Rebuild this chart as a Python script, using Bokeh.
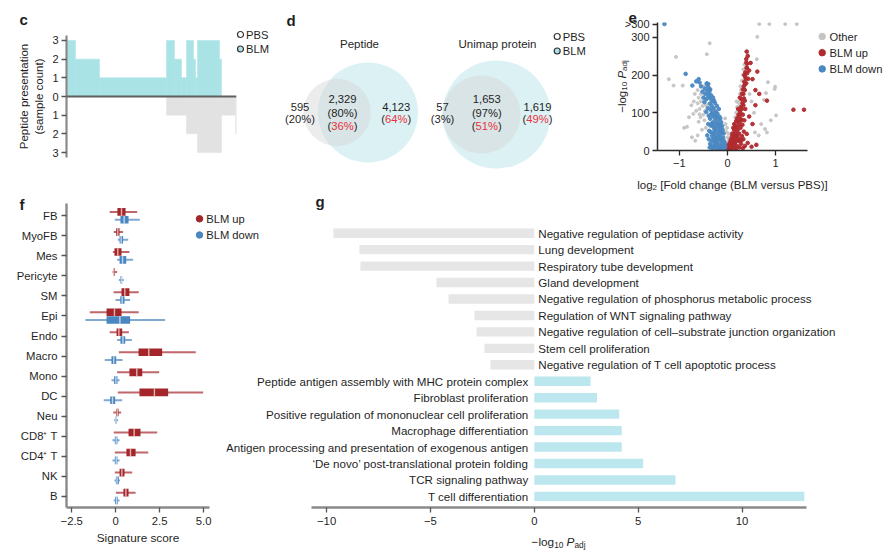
import math
import json
from bokeh.plotting import figure
from bokeh.models import (Range1d, Label, LabelSet, ColumnDataSource, FixedTicker,
                          CustomJSTickFormatter, Span, Spacer)
from bokeh.layouts import column, row
from bokeh.core.properties import value
from bokeh.embed import file_html
from bokeh.resources import INLINE

FONT = "Liberation Sans"
INK = "#1f1f1f"
TEAL_C = "#a9e3e5"
GRAY_C = "#e2e2e2"
RED = "#a4262b"
BLUE = "#4a86bf"
PCT_RED = "#e8323c"

# ---------------- data: panel c ----------------
c_blm_counts = [3, 2, 1, 3, 2, 1, 3, 2, 1, 3, 2, 0]
c_blm_runs = [9, 24, 67, 8, 7, 5, 7, 2, 2, 22, 2, 15]
c_pbs_counts = [0, 1, 2, 3, 1, 2]
c_pbs_runs = [100, 20, 11, 24, 14, 1]
c_ticks = [-3, -2, -1, 0, 1, 2, 3]

# ---------------- data: panel d ----------------
venn_titles = ["Peptide", "Unimap protein"]
venn_pbs_only = [595, 57]
venn_shared = [2329, 1653]
venn_blm_only = [4123, 1619]
venn_pct_pbs_only = [20, 3]
venn_pct_shared_pbs = [80, 97]
venn_pct_shared_blm = [36, 51]
venn_pct_blm_only = [64, 49]

# ---------------- data: panel e (volcano) ----------------
e_other = [(0.66, 335), (0.87, 335), (1.20, 335), (1.44, 335), (0.62, 301), (-0.37, 284),
           (-1.07, 248), (-0.43, 255), (0.39, 262), (0.42, 254), (0.61, 242), (-1.22, 189),
           (-1.12, 172), (-0.93, 172), (0.84, 181), (0.99, 169), (0.98, 163), (0.80, 152),
           (0.76, 134), (1.01, 93), (-0.84, 63), (-0.71, 97), (0.78, 57), (0.82, 48),
           (-0.74, 35), (-0.67, 26), (0.57, 48),
           (-0.55, 150), (-0.60, 140), (-0.62, 125), (-0.58, 110), (-0.52, 118), (-0.65, 105),
           (-0.50, 95), (-0.56, 88), (-0.48, 80), (-0.60, 76), (-0.45, 60), (-0.53, 55),
           (-0.62, 160), (-0.68, 150), (-0.50, 170), (-0.45, 120), (-0.47, 105), (-0.55, 130),
           (-0.70, 130), (-0.58, 96),
           (0.18, 100), (0.20, 115), (0.22, 128), (0.24, 140), (0.26, 150), (0.25, 120),
           (0.21, 92), (0.27, 170), (0.30, 185), (0.32, 200), (0.33, 215), (0.35, 228),
           (0.28, 160), (0.19, 130), (0.23, 105), (0.16, 88),
           (-0.02, 20), (0.00, 35), (-0.03, 50), (0.01, 15), (-0.01, 60), (0.02, 45),
           (-0.04, 70), (0.03, 28), (0.00, 8), (-0.05, 85),
           (-0.75, 120), (-0.80, 88), (0.50, 130), (0.55, 100), (0.46, 150), (0.70, 70),
           (0.65, 40), (-0.62, 40), (-0.90, 60), (0.90, 80)]
e_down = [(-0.02, 2), (-0.04, 6), (-0.06, 3), (-0.08, 10), (-0.10, 4), (-0.12, 12), (-0.14, 6),
          (-0.16, 15), (-0.18, 4), (-0.20, 9), (-0.22, 18), (-0.24, 7), (-0.26, 14), (-0.28, 22),
          (-0.30, 10), (-0.33, 26), (-0.36, 18), (-0.39, 30),
          (-0.05, 18), (-0.07, 25), (-0.09, 34), (-0.11, 22), (-0.13, 30), (-0.15, 40),
          (-0.17, 28), (-0.19, 36), (-0.21, 45), (-0.23, 33), (-0.25, 50), (-0.27, 38),
          (-0.30, 44), (-0.34, 48), (-0.38, 52), (-0.42, 40),
          (-0.08, 45), (-0.10, 55), (-0.12, 48), (-0.14, 62), (-0.16, 52), (-0.18, 68),
          (-0.20, 58), (-0.22, 72), (-0.24, 62), (-0.26, 80), (-0.28, 68), (-0.31, 74),
          (-0.35, 66), (-0.40, 70),
          (-0.13, 75), (-0.15, 85), (-0.17, 90), (-0.19, 82), (-0.21, 98), (-0.23, 88),
          (-0.25, 104), (-0.27, 94), (-0.29, 112), (-0.31, 100), (-0.33, 118), (-0.35, 108),
          (-0.37, 124), (-0.39, 92), (-0.41, 112), (-0.44, 102), (-0.18, 110), (-0.22, 118),
          (-0.26, 126),
          (-0.28, 132), (-0.30, 140), (-0.32, 130), (-0.34, 146), (-0.36, 138), (-0.38, 152),
          (-0.40, 144), (-0.42, 158), (-0.44, 136), (-0.46, 150), (-0.48, 128), (-0.50, 140),
          (-0.36, 162), (-0.40, 168), (-0.43, 176), (-0.47, 164), (-0.52, 156), (-0.55, 170),
          (-0.58, 180), (-0.60, 189), (-0.65, 183), (-0.73, 172), (-0.87, 203), (-0.37, 159),
          (-0.40, 176), (-0.43, 178), (-1.31, 335),
          (-0.31, 5), (-0.34, 12), (-0.37, 8), (-0.29, 30), (-0.32, 38), (-0.27, 55),
          (-0.29, 62), (-0.33, 70), (-0.36, 84), (-0.30, 90), (-0.34, 96), (-0.24, 92),
          (-0.20, 70), (-0.16, 72), (-0.11, 65), (-0.25, 28), (-0.21, 22), (-0.15, 50),
          (-0.06, 10), (-0.03, 12)]
e_up = [(0.02, 2), (0.04, 8), (0.06, 4), (0.08, 14), (0.10, 6), (0.12, 18), (0.14, 9),
        (0.16, 22), (0.18, 5), (0.20, 12), (0.22, 26), (0.25, 8), (0.28, 18), (0.32, 6),
        (0.36, 12), (0.42, 20), (0.50, 10), (0.60, 15),
        (0.05, 22), (0.07, 30), (0.09, 38), (0.11, 28), (0.13, 42), (0.15, 35), (0.17, 48),
        (0.19, 40), (0.21, 55), (0.24, 45), (0.27, 60), (0.30, 38), (0.34, 50), (0.40, 44),
        (0.12, 60), (0.14, 70), (0.16, 65), (0.18, 78), (0.20, 85), (0.22, 75), (0.23, 95),
        (0.25, 88), (0.26, 105), (0.27, 98), (0.28, 115), (0.30, 110), (0.31, 125),
        (0.33, 120), (0.34, 138), (0.36, 132), (0.29, 82), (0.32, 95), (0.37, 110),
        (0.45, 90), (0.52, 70), (0.58, 120),
        (0.30, 150), (0.32, 162), (0.34, 170), (0.35, 182), (0.36, 160), (0.37, 195),
        (0.38, 205), (0.39, 178), (0.40, 218), (0.41, 230), (0.39, 242), (0.42, 250),
        (0.40, 262), (0.43, 190), (0.45, 212), (0.48, 232), (0.52, 189), (0.62, 209),
        (0.37, 207), (0.39, 233), (0.40, 220), (0.82, 132), (1.37, 108), (1.59, 108),
        (0.58, 160), (0.66, 150),
        (0.03, 15), (0.06, 12), (0.09, 20), (0.12, 30), (0.15, 20), (0.18, 30), (0.20, 40),
        (0.23, 32), (0.26, 25), (0.29, 28), (0.33, 30), (0.10, 45), (0.14, 55), (0.19, 62),
        (0.24, 68), (0.27, 78), (0.31, 68), (0.35, 80), (0.22, 110), (0.26, 140),
        (0.29, 135), (0.33, 150), (0.36, 175), (0.38, 190), (0.41, 205), (0.35, 200)]
e_xticks = [-1, 0, 1]
e_yticks = [0, 100, 200, 300, 335]
e_legend = ["Other", "BLM up", "BLM down"]

# ---------------- data: panel f ----------------
f_types = ["FB", "MyoFB", "Mes", "Pericyte", "SM", "Epi", "Endo", "Macro", "Mono", "DC",
           "Neu", "CD8\u207a T", "CD4\u207a T", "NK", "B"]
f_up_lo = [-0.34, -0.11, -0.16, -0.18, -0.12, -1.47, -0.34, 0.18, 0.08, 0.12, -0.14, -0.11, -0.05, -0.05, 0.01]
f_up_q1 = [0.10, 0.03, -0.07, -0.14, 0.33, -0.52, 0.05, 1.30, 0.78, 1.35, 0.03, 0.73, 0.61, 0.22, 0.44]
f_up_med = [0.33, 0.12, 0.12, -0.11, 0.52, -0.07, 0.18, 1.88, 1.20, 2.20, 0.09, 1.05, 0.84, 0.35, 0.58]
f_up_q3 = [0.56, 0.22, 0.33, -0.05, 0.78, 0.33, 0.37, 2.64, 1.51, 2.98, 0.16, 1.41, 1.13, 0.50, 0.73]
f_up_hi = [1.22, 0.42, 0.78, 0.08, 1.31, 1.31, 0.75, 4.55, 2.47, 4.97, 0.31, 2.36, 1.85, 0.94, 1.13]
f_dn_lo = [-0.05, 0.12, 0.08, 0.18, -0.01, -1.72, 0.08, -0.62, -0.24, -0.68, -0.09, -0.18, -0.18, -0.07, -0.11]
f_dn_q1 = [0.27, 0.22, 0.22, 0.27, 0.26, -0.52, 0.27, -0.24, -0.09, -0.31, -0.03, -0.05, -0.05, 0.01, -0.03]
f_dn_med = [0.48, 0.31, 0.39, 0.33, 0.37, 0.24, 0.41, -0.11, 0.01, -0.18, 0.01, 0.03, 0.03, 0.08, 0.05]
f_dn_q3 = [0.73, 0.42, 0.60, 0.37, 0.50, 0.82, 0.54, 0.03, 0.10, -0.03, 0.05, 0.10, 0.10, 0.18, 0.12]
f_dn_hi = [1.37, 0.71, 0.99, 0.46, 0.82, 2.81, 0.92, 0.39, 0.22, 0.37, 0.14, 0.22, 0.22, 0.24, 0.22]
f_xticks = [-2.5, 0, 2.5, 5]
f_legend = ["BLM up", "BLM down"]

# ---------------- data: panel g ----------------
g_terms_down = ["Negative regulation of peptidase activity", "Lung development",
                "Respiratory tube development", "Gland development",
                "Negative regulation of phosphorus metabolic process",
                "Regulation of WNT signaling pathway",
                "Negative regulation of cell\u2013substrate junction organization",
                "Stem cell proliferation", "Negative regulation of T cell apoptotic process"]
g_vals_down = [-9.67, -8.42, -8.37, -4.71, -4.13, -2.88, -2.78, -2.40, -2.11]
g_terms_up = ["Peptide antigen assembly with MHC protein complex", "Fibroblast proliferation",
              "Positive regulation of mononuclear cell proliferation",
              "Macrophage differentiation",
              "Antigen processing and presentation of exogenous antigen",
              "\u2018De novo\u2019 post-translational protein folding",
              "TCR signaling pathway", "T cell differentiation"]
g_vals_up = [2.71, 3.02, 4.09, 4.21, 4.21, 5.24, 6.80, 13.0]
g_xticks = [-10, -5, 0, 5, 10]

# ---------------- helpers ----------------
AW = {" ": 278, "(": 333, ")": 333, "[": 278, "]": 278, ",": 278, ".": 278, "%": 889,
      "\u2212": 584, "-": 333,
      "a": 556, "b": 556, "c": 500, "d": 556, "e": 556, "f": 278, "g": 556, "h": 556,
      "i": 222, "j": 222, "k": 500, "l": 222, "m": 833, "n": 556, "o": 556, "p": 556,
      "q": 556, "r": 333, "s": 500, "t": 278, "u": 556, "v": 500, "w": 722, "x": 500,
      "y": 500, "z": 500, "A": 667, "B": 667, "C": 722, "D": 722, "E": 667, "F": 611,
      "G": 778, "H": 722, "I": 278, "L": 556, "M": 833, "N": 722, "O": 778, "P": 667,
      "R": 722, "S": 667, "T": 611, "U": 722, "V": 667, "W": 944}


def tw(s, size):
    return sum(AW.get(ch, 556) for ch in s) * size / 1000.0


def make_fig(ox, oy, w, h, fl, ft, fr, fb, xr, yr, **kw):
    p = figure(width=w, height=h, x_range=xr, y_range=yr, output_backend="svg",
               toolbar_location=None,
               min_border_left=int(round(fl - ox)), min_border_right=int(round(ox + w - fr)),
               min_border_top=int(round(ft - oy)), min_border_bottom=int(round(oy + h - fb)), **kw)
    p.outline_line_color = None
    p.grid.visible = False
    try:
        p.frame_align = False
    except Exception:
        pass
    return p


def lab(p, x, y, text, size=11, color=INK, align="left", baseline="middle", angle=0,
        style="normal", font=FONT):
    p.add_layout(Label(x=x, y=y, text=text,
                       text_font=font, text_font_size=f"{size}px", text_color=color,
                       text_align=align, text_baseline=baseline, angle=angle,
                       text_font_style=style))


def rich(p, x, y, pieces, size, vertical=False):
    widths = [tw(t, size * rs) for t, rs, st, sh in pieces]
    off = -sum(widths) / 2
    for (t, rs, st, sh), w in zip(pieces, widths):
        lead = len(t) - len(t.lstrip(" "))
        o = off + tw(" " * lead, size * rs)
        t = t.lstrip(" ")
        if vertical:
            lab(p, x + sh * size, y - o, t, size=round(size * rs, 1), baseline="alphabetic",
                angle=math.pi / 2, style=st)
        else:
            lab(p, x + o, y + sh * size, t, size=round(size * rs, 1), baseline="alphabetic",
                style=st)
        off += w


def style_axis(ax, line_color, line_width, tick_color, size="11px", standoff=4):
    ax.axis_line_color = line_color
    ax.axis_line_width = line_width
    ax.major_tick_line_color = tick_color
    ax.major_tick_line_width = 1.3
    ax.major_tick_out = 5
    ax.major_tick_in = 0
    ax.minor_tick_line_color = None
    ax.major_label_text_font = FONT
    ax.major_label_text_font_size = size
    ax.major_label_text_color = INK
    ax.major_label_standoff = standoff


NEG_FMT = "return tick < 0 ? '\\u2212' + Math.abs(tick) : '' + tick;"

# ================= panel c =================
C0, CS = 96.0, 18.67   # page y of zero, px per count (layout)
pc = make_fig(0, 0, 237, 190, 66, 35, 236, 157, Range1d(0, sum(c_blm_runs)),
              Range1d((C0 - 157) / CS, (C0 - 35) / CS), x_axis_location=None)


def runs_to_quads(counts, runs, sign):
    L, R, T = [], [], []
    pos = 0
    for cnt, r in zip(counts, runs):
        if cnt > 0:
            L.append(pos)
            R.append(pos + r)
            T.append(sign * cnt)
        pos += r
    return L, R, T


L, R, T = runs_to_quads(c_blm_counts, c_blm_runs, 1)
pc.quad(left=L, right=R, top=T, bottom=0, fill_color=TEAL_C, line_color=TEAL_C, line_width=0.5)
L, R, T = runs_to_quads(c_pbs_counts, c_pbs_runs, -1)
pc.quad(left=L, right=R, top=0, bottom=T, fill_color=GRAY_C, line_color=GRAY_C, line_width=0.5)
pc.add_layout(Span(location=0, dimension="width", line_color="#5f5f5f", line_width=2))
pc.yaxis.ticker = FixedTicker(ticks=c_ticks)
pc.yaxis.formatter = CustomJSTickFormatter(code="return '' + Math.abs(tick);")
style_axis(pc.yaxis[0], "#8a8a8a", 2.2, "#555555", "11px", 3)

# ================= panel e =================
E0, ES = 150.0, 0.3775   # page y of zero, px per unit (layout)
pe = make_fig(600, 0, 292, 190, 657, 22, 807, 150, Range1d(-1.455, 1.663),
              Range1d(0, (E0 - 22) / ES))
pe.scatter(x=[a for a, b in e_other], y=[b for a, b in e_other], size=3, color="#c4c4c4",
           alpha=0.95)
pe.scatter(x=[a for a, b in e_down], y=[b for a, b in e_down], size=3.6, color="#4a88c2",
           alpha=0.95)
pe.scatter(x=[a for a, b in e_up], y=[b for a, b in e_up], size=3.6, color="#b02a2e",
           alpha=0.95)
pe.xaxis.ticker = FixedTicker(ticks=e_xticks)
pe.xaxis.formatter = CustomJSTickFormatter(code=NEG_FMT)
pe.yaxis.ticker = FixedTicker(ticks=e_yticks)
pe.yaxis.formatter = CustomJSTickFormatter(code="return tick > 300 ? '>300' : '' + tick;")
style_axis(pe.xaxis[0], "#2a2a2a", 1.5, "#2a2a2a", "11px", 3)
style_axis(pe.yaxis[0], "#2a2a2a", 1.5, "#2a2a2a", "11px", 3)

# ================= panel f =================
nf = len(f_types)
pf = make_fig(0, 190, 226, 362, 66, 203, 209, 507, Range1d(-2.795, 5.33),
              Range1d(nf - 1 + 0.55, -0.61))
idx = list(range(nf))
for off, lo, q1, med, q3, hi, colr in [
        (-0.19, f_up_lo, f_up_q1, f_up_med, f_up_q3, f_up_hi, RED),
        (0.2, f_dn_lo, f_dn_q1, f_dn_med, f_dn_q3, f_dn_hi, BLUE)]:
    yy = [i + off for i in idx]
    pf.segment(x0=lo, y0=yy, x1=hi, y1=yy, line_color=colr, line_width=2, line_alpha=0.7)
    pf.hbar(y=yy, left=q1, right=q3, height=0.38, fill_color=colr, line_color=None)
    pf.segment(x0=med, y0=[v - 0.19 for v in yy], x1=med, y1=[v + 0.19 for v in yy],
               line_color="white", line_width=1.4, line_alpha=0.65)
pf.yaxis.ticker = FixedTicker(ticks=idx)
pf.yaxis.formatter = CustomJSTickFormatter(code="const L = " + json.dumps(f_types) +
                                           "; return L[Math.round(tick)];")
pf.xaxis.ticker = FixedTicker(ticks=f_xticks)
pf.xaxis.formatter = CustomJSTickFormatter(
    code="return tick < 0 ? '\\u2212' + Math.abs(tick).toFixed(1) : (tick == 0 ? '0' : tick.toFixed(1));")
style_axis(pf.yaxis[0], "#8a8a8a", 2.4, "#555555", "11.3px", 4)
style_axis(pf.xaxis[0], "#8a8a8a", 2.4, "#555555", "11.3px", 4)

# ================= panel g =================
n_rows = len(g_terms_down) + len(g_terms_up)
G0, GS = 533.8, 20.77   # page x of zero, px per unit (layout)
pg = make_fig(226, 190, 666, 362, 226, 203, 892, 507,
              Range1d((226 - G0) / GS, (892 - G0) / GS),
              Range1d(n_rows - 1 + 0.675, -1.805), y_axis_location=None)
rows_down = list(range(len(g_terms_down)))
rows_up = [len(g_terms_down) + i for i in range(len(g_terms_up))]
pg.hbar(y=rows_down, left=g_vals_down, right=0, height=0.57, fill_color="#e6e6e6",
        line_color=None)
pg.hbar(y=rows_up, left=0, right=g_vals_up, height=0.57, fill_color="#bce7ee",
        line_color=None)
src_d = ColumnDataSource(dict(x=[0] * len(rows_down), y=rows_down, t=g_terms_down))
src_u = ColumnDataSource(dict(x=[0] * len(rows_up), y=rows_up, t=g_terms_up))
pg.add_layout(LabelSet(x="x", y="y", text="t", source=src_d, x_offset=4, text_align="left",
                       text_baseline="middle", text_font=value(FONT),
                       text_font_size=value("11.6px"), text_color=INK))
pg.add_layout(LabelSet(x="x", y="y", text="t", source=src_u, x_offset=-6, text_align="right",
                       text_baseline="middle", text_font=value(FONT),
                       text_font_size=value("11.6px"), text_color=INK))
pg.xaxis.ticker = FixedTicker(ticks=g_xticks)
pg.xaxis.formatter = CustomJSTickFormatter(code=NEG_FMT)
pg.xaxis.bounds = ((311 - G0) / GS, (806 - G0) / GS)
style_axis(pg.xaxis[0], "#8a8a8a", 2.4, "#555555", "11.3px", 4)

# ================= overlay: Venn panel d + free texts (page pixel coordinates) =================
ov = make_fig(0, 0, 892, 552, 0, 0, 892, 552, Range1d(0, 892), Range1d(552, 0),
              x_axis_location=None, y_axis_location=None, margin=(-552, 0, 0, 0))
ov.background_fill_color = None
ov.border_fill_color = None

venn_cx_pbs = [336.5, 481.0]
venn_cx_blm = [367.5, 496.0]
venn_cy = [112.0, 114.0]
venn_r = [50.0, 54.0]
venn_title_x = [359.0, 497.0]
col_x = [[299.5, 342.0, 395.7], [442.0, 486.3, 537.0]]


def red_pct(p, xc, yc, v, size):
    mid = f"{v}%"
    w = tw(mid, size)
    lab(p, xc - w / 2, yc, "(", size, align="right")
    lab(p, xc - w / 2, yc, mid, size, color=PCT_RED, align="left")
    lab(p, xc + w / 2, yc, ")", size, align="left")


for i in range(2):
    tot_pbs = venn_pbs_only[i] + venn_shared[i]
    tot_blm = venn_blm_only[i] + venn_shared[i]
    r_blm = venn_r[i]
    r_pbs = venn_r[i] * math.sqrt(tot_pbs / tot_blm)
    ov.circle(x=[venn_cx_blm[i]], y=[venn_cy[i]], radius=r_blm, fill_color="#dcf1f4",
              line_color=None)
    ov.circle(x=[venn_cx_pbs[i]], y=[venn_cy[i]], radius=r_pbs, fill_color="#d2d2d2",
              fill_alpha=0.42, line_color=None)
    lab(ov, venn_title_x[i], 43, venn_titles[i], 11.5, align="center")
    xs = col_x[i]
    lab(ov, xs[0], 106, f"{venn_pbs_only[i]:,}", 11.2, align="center")
    lab(ov, xs[0], 118, f"({venn_pct_pbs_only[i]}%)", 11.2, align="center")
    lab(ov, xs[1], 98.3, f"{venn_shared[i]:,}", 11.2, align="center")
    lab(ov, xs[1], 112, f"({venn_pct_shared_pbs[i]}%)", 11.2, align="center")
    red_pct(ov, xs[1], 125.7, venn_pct_shared_blm[i], 11.2)
    lab(ov, xs[2], 106, f"{venn_blm_only[i]:,}", 11.2, align="center")
    red_pct(ov, xs[2], 118, venn_pct_blm_only[i], 11.2)

# PBS / BLM legends of panels c and d
for lx, ly in [(240, 34), (556.7, 36)]:
    ov.scatter(x=[lx, lx], y=[ly, ly + 14.5], size=6, fill_color=["white", TEAL_C],
               line_color="#333333", line_width=1.2)
    lab(ov, lx + 5.5, ly, "PBS", 11.2)
    lab(ov, lx + 5.5, ly + 14.5, "BLM", 11.2)

# panel letters
for t, x, y in [("c", 19, 19), ("d", 286, 20), ("e", 628, 17), ("f", 19, 204), ("g", 315, 201)]:
    lab(ov, x, y, t, 15, baseline="alphabetic", style="bold")
# c axis label
lab(ov, 23, 96, "Peptide presentation", 11.5, align="center", angle=math.pi / 2)
lab(ov, 38, 96, "(sample count)", 11.5, align="center", angle=math.pi / 2)
# e axis labels
rich(ov, 732, 184, [("log", 1.0, "normal", 0), ("2", 0.7, "normal", 0.3),
                    (" [Fold change (BLM versus PBS)]", 1.0, "normal", 0)], 11.5)
rich(ov, 621, 86, [("\u2212log", 1.0, "normal", 0), ("10", 0.7, "normal", 0.3),
                   (" P", 1.0, "italic", 0), ("adj", 0.7, "normal", 0.3)], 11.5, vertical=True)
# e legend
e_leg_y = [36 + 16.2 * k for k in range(len(e_legend))]
ov.scatter(x=[821.7] * len(e_legend), y=e_leg_y, size=6.5,
           color=["#c4c4c4", "#b02a2e", "#4a88c2"])
for nm, yy in zip(e_legend, e_leg_y):
    lab(ov, 829, yy, nm, 11.2)
# f axis label and legend
lab(ov, 137.5, 537, "Signature score", 11.8, align="center")
f_leg_y = [218.3 + 16.2 * k for k in range(len(f_legend))]
ov.scatter(x=[199] * len(f_legend), y=f_leg_y, size=6.5, color=[RED, BLUE])
for nm, yy in zip(f_legend, f_leg_y):
    lab(ov, 205.7, yy, nm, 11.2)
# g axis label
rich(ov, 558, 541, [("\u2212log", 1.0, "normal", 0), ("10", 0.7, "normal", 0.3),
                    (" P", 1.0, "italic", 0), ("adj", 0.7, "normal", 0.3)], 11.8)

layout = column(row(pc, Spacer(width=363, height=190), pe), row(pf, pg), ov)
open("out.html", "w").write(file_html(layout, INLINE))
